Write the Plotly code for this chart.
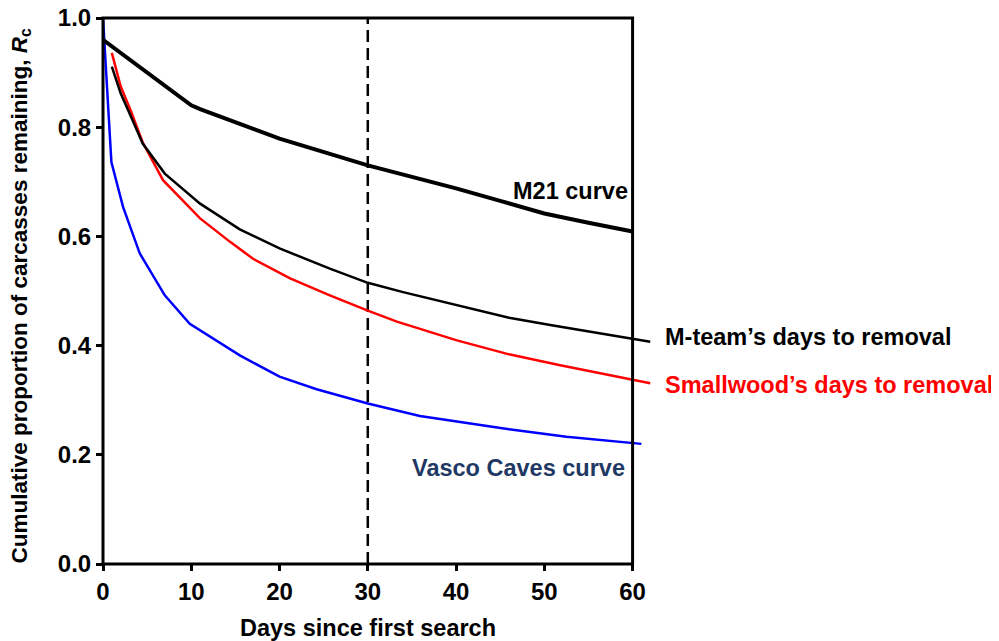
import plotly.graph_objects as go

# ---- data ----
m21_days = [0, 5, 9, 10, 11, 15.5, 20, 30, 40, 45, 50, 55, 60]
m21_rc = [0.960, 0.899, 0.850, 0.840, 0.833, 0.806, 0.779, 0.730, 0.688, 0.665, 0.642, 0.625, 0.609]

mteam_days = [1, 2, 3.2, 4.5, 7, 11, 15.5, 20, 25.7, 30, 34, 40, 46, 51, 56, 60, 62]
mteam_rc = [0.911, 0.862, 0.818, 0.770, 0.715, 0.660, 0.613, 0.578, 0.541, 0.515, 0.498,
            0.474, 0.451, 0.437, 0.423, 0.412, 0.407]

smallwood_days = [1, 2, 3.2, 4.5, 6.8, 11, 14.4, 17, 21.2, 25.7, 30, 33.3, 40, 46, 51.8, 56, 60, 62]
smallwood_rc = [0.936, 0.875, 0.828, 0.772, 0.703, 0.633, 0.590, 0.559, 0.523, 0.492, 0.464, 0.444,
                0.410, 0.384, 0.364, 0.350, 0.337, 0.331]

vasco_days = [0, 0.95, 2.27, 4.16, 7, 9.83, 15.5, 20, 24.2, 30, 35.9, 40, 46, 52.5, 61]
vasco_rc = [1.0, 0.736, 0.654, 0.569, 0.492, 0.440, 0.382, 0.343, 0.320, 0.294, 0.271, 0.261,
            0.247, 0.233, 0.220]

ref_day = 30
x_ticks = [0, 10, 20, 30, 40, 50, 60]
y_ticks = [0.0, 0.2, 0.4, 0.6, 0.8, 1.0]

x_axis_end = 60
x_view_max = 62.2

FONT = "Liberation Sans, Arial, sans-serif"

fig = go.Figure()

fig.add_trace(go.Scatter(x=[ref_day, ref_day], y=[0, 1], mode="lines",
                         line=dict(color="black", width=2.5, dash="12px,6px"),
                         showlegend=False, hoverinfo="skip"))
fig.add_trace(go.Scatter(x=vasco_days, y=vasco_rc, mode="lines",
                         line=dict(color="#0000FF", width=2.5), name="Vasco Caves curve"))
fig.add_trace(go.Scatter(x=smallwood_days, y=smallwood_rc, mode="lines",
                         line=dict(color="#FF0000", width=2.5), name="Smallwood's days to removal"))
fig.add_trace(go.Scatter(x=mteam_days, y=mteam_rc, mode="lines",
                         line=dict(color="black", width=2.5), name="M-team's days to removal"))
fig.add_trace(go.Scatter(x=m21_days, y=m21_rc, mode="lines",
                         line=dict(color="black", width=4), name="M21 curve"))

end_frac = x_axis_end / x_view_max

fig.add_shape(type="rect", xref="paper", yref="paper", x0=0, x1=end_frac, y0=0, y1=1,
              line=dict(color="black", width=3), fillcolor="rgba(0,0,0,0)", layer="above")

label_font = dict(family=FONT, size=23.5, color="black", weight="bold")

annotations = [
    dict(text="<b>M21 curve</b>", x=59.7, y=0.684, xref="x", yref="y", xanchor="right",
         yanchor="middle", showarrow=False, font=label_font),
    dict(text="<b>M-team’s days to removal</b>", x=(663 - 103) / 549, y=0.415, xref="paper",
         yref="y", xanchor="left", yanchor="middle", showarrow=False, font=label_font),
    dict(text="<b>Smallwood’s days to removal</b>", x=(663 - 103) / 549, y=0.3275, xref="paper",
         yref="y", xanchor="left", yanchor="middle", showarrow=False,
         font=dict(label_font, color="#FF0000")),
    dict(text="<b>Vasco Caves curve</b>", x=59.35, y=0.176, xref="x", yref="y", xanchor="right",
         yanchor="middle", showarrow=False, font=dict(label_font, color="#1F3864")),
    dict(text="<b>Days since first search</b>", x=ref_day, y=0, xref="x", yref="paper",
         xanchor="center", yanchor="middle", yshift=-64, showarrow=False, font=label_font),
    dict(text="<b>Cumulative proportion of carcasses remaining, <i>R</i><sub>c</sub></b>",
         x=0, y=0.49, xref="paper", yref="paper", xanchor="center", yanchor="middle",
         xshift=-82, textangle=-90, showarrow=False, font=dict(label_font, size=22.5)),
]

# the page body adds an 8px offset; the figure is sized to compensate
fig.update_layout(
    width=991, height=633,
    margin=dict(l=95, r=347, t=10, b=77, pad=0, autoexpand=False),
    paper_bgcolor="white", plot_bgcolor="white",
    showlegend=False,
    font=dict(family=FONT, color="black"),
    annotations=annotations,
    xaxis=dict(range=[0, x_view_max], tickvals=x_ticks, ticktext=[str(v) for v in x_ticks],
               ticks="outside", ticklen=6, tickwidth=3, tickcolor="black",
               showgrid=False, zeroline=False, showline=False, ticklabeloverflow="allow",
               tickfont=dict(family=FONT, size=24, color="black", weight="bold")),
    yaxis=dict(range=[0, 1], tickvals=y_ticks, ticktext=[f"{v:.1f}" for v in y_ticks],
               ticks="outside", ticklen=6, tickwidth=3, tickcolor="black",
               showgrid=False, zeroline=False, showline=False, ticklabeloverflow="allow",
               tickfont=dict(family=FONT, size=24, color="black", weight="bold")),
)

fig.write_html("out.html")
